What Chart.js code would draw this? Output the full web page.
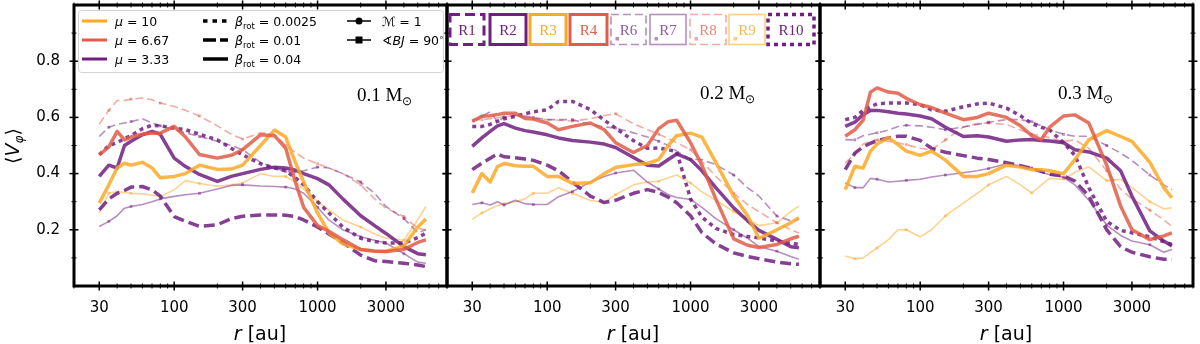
<!DOCTYPE html>
<html>
<head>
<meta charset="utf-8">
<script src="https://cdn.jsdelivr.net/npm/chart.js@4/dist/chart.umd.min.js"></script>
<style>
  body { margin: 0; background: #fff; }
  #wrap { position: relative; width: 1200px; height: 344px; overflow: hidden; }
  canvas { position: absolute; top: 0; }
  #overlay { position: absolute; left: 0; top: 0; pointer-events: none; }
</style>
</head>
<body>
<div id="wrap">
  <canvas id="c1" width="449" height="344" style="left:0px"></canvas>
  <canvas id="c2" width="385" height="344" style="left:440px"></canvas>
  <canvas id="c3" width="387" height="344" style="left:813px"></canvas>
  <svg id="overlay" width="1200" height="344" font-family="DejaVu Sans">
    <!-- axis labels -->
    <text x="260" y="340" text-anchor="middle" font-size="19"><tspan font-style="italic">r</tspan> [au]</text>
    <text x="633" y="340" text-anchor="middle" font-size="19"><tspan font-style="italic">r</tspan> [au]</text>
    <text x="1006" y="340" text-anchor="middle" font-size="19"><tspan font-style="italic">r</tspan> [au]</text>
    <text transform="translate(19,146) rotate(-90)" text-anchor="middle" font-size="19">⟨<tspan font-style="italic">V</tspan><tspan font-style="italic" font-size="12" dy="4">φ</tspan><tspan dy="-4">⟩</tspan></text>

    <!-- mass labels -->
    <g font-family="Liberation Serif" font-size="19">
      <text x="357" y="101">0.1 M<tspan font-size="12" dy="4">⊙</tspan></text>
      <text x="700" y="99">0.2 M<tspan font-size="12" dy="4">⊙</tspan></text>
      <text x="1058" y="99">0.3 M<tspan font-size="12" dy="4">⊙</tspan></text>
    </g>

    <!-- legend, panel 1 -->
    <g font-size="12.5">
      <rect x="78.5" y="10.5" width="365" height="62" rx="3" fill="#fff" fill-opacity="0.85" stroke="#d4d4d4"/>
      <line x1="82" y1="21" x2="107" y2="21" stroke="#fda826" stroke-width="3"/>
      <line x1="82" y1="40" x2="107" y2="40" stroke="#e25c46" stroke-width="3"/>
      <line x1="82" y1="59" x2="107" y2="59" stroke="#701e80" stroke-width="3"/>
      <text x="115" y="25.5"><tspan font-style="italic">μ</tspan> = 10</text>
      <text x="115" y="44.5"><tspan font-style="italic">μ</tspan> = 6.67</text>
      <text x="115" y="63.5"><tspan font-style="italic">μ</tspan> = 3.33</text>

      <line x1="203" y1="21" x2="228" y2="21" stroke="#000" stroke-width="3.5" stroke-dasharray="4.5 5"/>
      <line x1="203" y1="40" x2="228" y2="40" stroke="#000" stroke-width="3.5" stroke-dasharray="13 4"/>
      <line x1="203" y1="59" x2="228" y2="59" stroke="#000" stroke-width="3.5"/>
      <text x="235" y="25.5"><tspan font-style="italic">β</tspan><tspan font-size="8.5" dy="3">rot</tspan><tspan dy="-3"> = 0.0025</tspan></text>
      <text x="235" y="44.5"><tspan font-style="italic">β</tspan><tspan font-size="8.5" dy="3">rot</tspan><tspan dy="-3"> = 0.01</tspan></text>
      <text x="235" y="63.5"><tspan font-style="italic">β</tspan><tspan font-size="8.5" dy="3">rot</tspan><tspan dy="-3"> = 0.04</tspan></text>

      <line x1="347" y1="21" x2="371" y2="21" stroke="#000" stroke-width="1.5"/>
      <circle cx="359" cy="21" r="3.5" fill="#000"/>
      <line x1="347" y1="40" x2="371" y2="40" stroke="#000" stroke-width="1.5"/>
      <rect x="355.5" y="36.5" width="7" height="7" fill="#000"/>
      <text x="382" y="25.5">ℳ = 1</text>
      <text x="382" y="44.5">∢<tspan font-style="italic">BJ</tspan> = 90<tspan font-size="8" dy="-5">∘</tspan></text>
    </g>

    <!-- run legend, panel 2 -->
    <g font-family="Liberation Serif" font-size="15" text-anchor="middle">
      <rect x="450" y="14.5" width="34" height="30" fill="#fff" stroke="#701e80" stroke-width="3" stroke-dasharray="10 5"/>
      <text x="467" y="34.5" fill="#701e80">R1</text>
      <rect x="490" y="14.5" width="36" height="30" fill="#fff" stroke="#701e80" stroke-width="3"/>
      <text x="508" y="34.5" fill="#701e80">R2</text>
      <rect x="530" y="14.5" width="36" height="30" fill="#fff" stroke="#fda826" stroke-width="3"/>
      <text x="548" y="34.5" fill="#fda826">R3</text>
      <rect x="570" y="14.5" width="37" height="30" fill="#fff" stroke="#e25c46" stroke-width="3"/>
      <text x="588.5" y="34.5" fill="#e25c46">R4</text>

      <rect x="611" y="14.5" width="35" height="30" fill="#fff" stroke="#701e80" stroke-opacity="0.5" stroke-width="1.6" stroke-dasharray="8 4"/>
      <text x="628.5" y="34.5" fill="#701e80" fill-opacity="0.75">R6</text>
      <rect x="615.5" y="37" width="3.5" height="3.5" fill="#701e80" fill-opacity="0.5"/>
      <rect x="650" y="14.5" width="36" height="30" fill="#fff" stroke="#701e80" stroke-opacity="0.5" stroke-width="1.6"/>
      <text x="668" y="34.5" fill="#701e80" fill-opacity="0.75">R7</text>
      <rect x="654.5" y="37" width="3.5" height="3.5" fill="#701e80" fill-opacity="0.5"/>
      <rect x="690" y="14.5" width="36" height="30" fill="#fff" stroke="#e25c46" stroke-opacity="0.5" stroke-width="1.6" stroke-dasharray="8 4"/>
      <text x="708" y="34.5" fill="#e25c46" fill-opacity="0.75">R8</text>
      <rect x="694.5" y="37" width="3.5" height="3.5" fill="#e25c46" fill-opacity="0.5"/>
      <rect x="729" y="14.5" width="36" height="30" fill="#fff" stroke="#fda826" stroke-opacity="0.55" stroke-width="1.6"/>
      <text x="747" y="34.5" fill="#fda826" fill-opacity="0.8">R9</text>
      <rect x="733.5" y="37" width="3.5" height="3.5" fill="#fda826" fill-opacity="0.6"/>

      <rect x="768" y="14.5" width="46" height="30" fill="#fff" stroke="#701e80" stroke-width="3.5" stroke-dasharray="4 4"/>
      <text x="791" y="34.5" fill="#701e80">R10</text>
    </g>
  </svg>
</div>

<script>
// radius grid [au] shared by all curves
const radii = [30, 35, 40, 45, 50, 60, 70, 80, 100, 120, 150, 200, 250, 300,
  400, 500, 600, 700, 800, 1000, 1200, 1500, 2000, 2500, 3000, 4000, 5000, 5700];

const xMajor = [30, 100, 300, 1000, 3000];
const yMajor = [0.2, 0.4, 0.6, 0.8];
const yMinor = [0.1, 0.3, 0.5, 0.7, 0.9];

// <V_phi>, 0.1 Msun
const m01_R1  = [.271, .31, .33, .34, .352, .354, .342, .32, .247, .23, .212, .218, .24, .248, .253, .253, .252, .247, .235, .21, .185, .155, .11, .09, .087, .081, .075, .069];
const m01_R2  = [.39, .43, .42, .50, .515, .538, .55, .54, .455, .425, .397, .372, .39, .40, .415, .423, .42, .412, .40, .382, .36, .31, .25, .215, .187, .14, .115, .111];
const m01_R3  = [.295, .36, .42, .437, .43, .44, .42, .385, .39, .40, .43, .415, .416, .43, .50, .555, .53, .44, .37, .26, .19, .15, .13, .125, .123, .143, .21, .238];
const m01_R4  = [.467, .495, .55, .52, .53, .54, .544, .544, .568, .53, .468, .455, .465, .485, .538, .535, .49, .37, .28, .215, .195, .165, .13, .124, .123, .13, .155, .164];
const m01_R6  = [.532, .565, .575, .58, .585, .595, .58, .57, .556, .545, .532, .515, .50, .485, .44, .42, .408, .404, .41, .423, .42, .40, .37, .33, .283, .24, .19, .20];
const m01_R7  = [.212, .23, .25, .277, .283, .29, .30, .31, .319, .325, .33, .345, .358, .36, .356, .354, .352, .345, .33, .28, .235, .20, .175, .163, .153, .115, .085, .081];
const m01_R8  = [.576, .625, .66, .66, .665, .669, .663, .651, .639, .625, .605, .57, .54, .523, .545, .54, .50, .475, .455, .435, .42, .40, .36, .31, .277, .247, .205, .20];
const m01_R9  = [.259, .33, .336, .333, .33, .328, .323, .319, .342, .375, .365, .355, .36, .366, .40, .39, .39, .37, .345, .30, .27, .235, .21, .185, .17, .163, .235, .283];
const m01_R10 = [.467, .50, .51, .525, .535, .56, .572, .57, .562, .556, .54, .52, .49, .467, .435, .42, .41, .385, .36, .30, .26, .21, .17, .158, .153, .153, .172, .188];

// <V_phi>, 0.2 Msun
const m02_R1  = [.414, .437, .455, .47, .46, .456, .452, .447, .43, .41, .37, .32, .297, .305, .33, .343, .333, .316, .296, .25, .19, .15, .118, .105, .097, .085, .079, .077];
const m02_R2  = [.497, .527, .55, .57, .578, .562, .553, .548, .538, .527, .518, .512, .505, .493, .457, .43, .427, .45, .47, .45, .41, .35, .278, .232, .198, .166, .14, .136];
const m02_R3  = [.331, .40, .37, .425, .436, .428, .426, .426, .39, .39, .365, .367, .40, .422, .432, .436, .45, .50, .535, .544, .53, .44, .32, .25, .17, .20, .225, .243];
const m02_R4  = [.586, .604, .606, .61, .615, .615, .596, .594, .58, .556, .568, .58, .556, .51, .475, .50, .56, .585, .59, .51, .43, .31, .168, .145, .137, .148, .168, .177];
const m02_R6  = [.586, .604, .62, .585, .60, .608, .605, .60, .592, .592, .592, .575, .566, .562, .545, .53, .515, .50, .48, .45, .45, .432, .395, .35, .32, .249, .232, .237];
const m02_R7  = [.29, .296, .288, .30, .288, .305, .293, .29, .29, .318, .336, .37, .39, .402, .412, .37, .345, .325, .315, .308, .28, .24, .20, .17, .14, .124, .105, .095];
const m02_R8  = [.592, .592, .595, .598, .603, .606, .60, .596, .592, .59, .587, .595, .607, .613, .577, .556, .54, .525, .51, .485, .444, .39, .33, .29, .264, .225, .20, .189];
const m02_R9  = [.237, .26, .275, .286, .293, .30, .31, .33, .33, .35, .33, .304, .298, .325, .36, .37, .373, .385, .395, .367, .335, .305, .265, .235, .215, .225, .265, .284];
const m02_R10 = [.568, .568, .575, .586, .595, .604, .613, .62, .627, .657, .657, .628, .59, .562, .517, .49, .491, .485, .478, .31, .245, .205, .183, .176, .171, .16, .152, .148];

// <V_phi>, 0.3 Msun
const m03_R1  = [.414, .473, .495, .508, .517, .527, .533, .533, .518, .49, .476, .464, .455, .45, .439, .428, .418, .408, .398, .392, .373, .32, .20, .14, .12, .104, .095, .095];
const m03_R2  = [.568, .583, .61, .625, .625, .62, .615, .612, .605, .595, .565, .532, .535, .53, .515, .52, .521, .518, .516, .51, .485, .477, .455, .41, .32, .196, .16, .142];
const m03_R3  = [.343, .426, .42, .48, .505, .528, .503, .48, .465, .48, .448, .39, .39, .40, .43, .423, .414, .414, .41, .40, .45, .52, .553, .532, .515, .44, .35, .314];
const m03_R4  = [.533, .556, .59, .69, .705, .69, .686, .668, .645, .635, .615, .592, .60, .615, .60, .57, .535, .521, .565, .605, .609, .58, .43, .285, .20, .165, .178, .189];
const m03_R6  = [.521, .52, .535, .54, .545, .555, .568, .572, .57, .565, .556, .566, .575, .583, .592, .592, .585, .57, .556, .54, .533, .533, .50, .473, .447, .395, .36, .343];
const m03_R7  = [.367, .35, .35, .383, .38, .37, .373, .376, .38, .388, .395, .403, .41, .418, .435, .428, .42, .405, .396, .387, .36, .305, .217, .18, .16, .147, .12, .13];
const m03_R8  = [.438, .47, .505, .515, .52, .515, .509, .503, .49, .485, .52, .566, .578, .58, .575, .555, .54, .535, .527, .515, .52, .49, .41, .345, .31, .27, .235, .213];
const m03_R9  = [.107, .097, .10, .12, .135, .165, .20, .20, .175, .20, .25, .295, .33, .36, .39, .36, .331, .36, .383, .38, .405, .424, .375, .38, .35, .30, .275, .278];
const m03_R10 = [.592, .60, .625, .638, .648, .651, .651, .651, .645, .627, .622, .638, .648, .651, .633, .606, .578, .565, .555, .51, .465, .35, .23, .198, .189, .175, .158, .148];

const ORANGE = '253,168,38';
const RED = '226,92,70';
const PURPLE = '112,30,128';

// run -> line style (thick runs listed first so they end up on top)
const runStyle = {
  R4:  { rgb: RED,    thick: true },
  R3:  { rgb: ORANGE, thick: true },
  R2:  { rgb: PURPLE, thick: true },
  R10: { rgb: PURPLE, thick: true, dash: [4, 4] },
  R1:  { rgb: PURPLE, thick: true, dash: [11, 5] },
  R6:  { rgb: PURPLE, dash: [8, 4] },
  R7:  { rgb: PURPLE },
  R8:  { rgb: RED, dash: [8, 4] },
  R9:  { rgb: ORANGE },
};

function buildDatasets(series) {
  return Object.keys(runStyle).map(run => {
    const s = runStyle[run];
    const col = `rgba(${s.rgb},${s.thick ? 0.85 : 0.5})`;
    return {
      label: run,
      data: radii.map((r, i) => ({ x: r, y: series[run][i] })),
      borderColor: col,
      backgroundColor: col,
      borderWidth: s.thick ? 3.5 : 1.6,
      borderDash: s.dash || [],
      borderJoinStyle: 'round',
      tension: 0,
      pointStyle: 'rect',
      pointRadius: ctx => (!s.thick && ctx.dataIndex % 3 === 1) ? 2 : 0,
      pointBorderWidth: 0,
      pointBackgroundColor: col,
    };
  });
}

function minorTicks(min, max) {
  const out = [];
  for (let dec = 10; dec <= max; dec *= 10) {
    for (let k = 1; k < 10; k++) {
      const v = k * dec;
      if (v >= min && v <= max && !xMajor.includes(v)) out.push(v);
    }
  }
  return out;
}

// thick frame with in-out ticks on all four sides
const framePlugin = {
  id: 'frame',
  afterDatasetsDraw(chart) {
    const { ctx, chartArea: a, scales: { x, y } } = chart;
    ctx.save();
    ctx.strokeStyle = '#000';
    const seg = (x1, y1, x2, y2, w) => {
      ctx.lineWidth = w;
      ctx.beginPath(); ctx.moveTo(x1, y1); ctx.lineTo(x2, y2); ctx.stroke();
    };
    xMajor.forEach(v => {
      const p = x.getPixelForValue(v);
      seg(p, a.bottom - 4.5, p, a.bottom + 4.5, 1.5);
      seg(p, a.top - 4.5, p, a.top + 4.5, 1.5);
    });
    minorTicks(x.min, x.max).forEach(v => {
      const p = x.getPixelForValue(v);
      seg(p, a.bottom - 2.5, p, a.bottom + 2.5, 1);
      seg(p, a.top - 2.5, p, a.top + 2.5, 1);
    });
    yMajor.forEach(v => {
      const p = y.getPixelForValue(v);
      seg(a.left - 4.5, p, a.left + 4.5, p, 1.5);
      seg(a.right - 4.5, p, a.right + 4.5, p, 1.5);
    });
    yMinor.forEach(v => {
      const p = y.getPixelForValue(v);
      seg(a.left - 2.5, p, a.left + 2.5, p, 1);
      seg(a.right - 2.5, p, a.right + 2.5, p, 1);
    });
    ctx.lineWidth = 3;
    ctx.strokeRect(a.left, a.top, a.right - a.left, a.bottom - a.top);
    ctx.restore();
  }
};

function makePanel(id, series, showY, yWidth, rightPad) {
  return new Chart(document.getElementById(id), {
    type: 'line',
    data: { datasets: buildDatasets(series) },
    options: {
      responsive: false,
      animation: false,
      layout: { padding: { top: 5, right: rightPad, left: 0, bottom: 0 } },
      plugins: { legend: { display: false }, tooltip: { enabled: false } },
      scales: {
        x: {
          type: 'logarithmic', min: 20, max: 8000,
          grid: { display: false, drawTicks: false },
          border: { display: false },
          afterBuildTicks: s => { s.ticks = xMajor.map(v => ({ value: v })); },
          afterFit: s => { s.height = 58; s.paddingLeft = 0; s.paddingRight = 0; },
          ticks: {
            autoSkip: false, maxRotation: 0, padding: 13, color: '#000',
            font: { family: 'DejaVu Sans', size: 15 },
            callback: v => String(v)
          }
        },
        y: {
          min: 0, max: 1,
          grid: { display: false, drawTicks: false },
          border: { display: false },
          afterBuildTicks: s => { s.ticks = yMajor.map(v => ({ value: v })); },
          // keep the plot box fixed: no extra room for half-labels at the ends
          afterFit: s => { s.width = yWidth; s.paddingTop = 0; s.paddingBottom = 0; },
          ticks: {
            display: showY, padding: 14, color: '#000',
            font: { family: 'DejaVu Sans', size: 15 },
            callback: v => Number(v).toFixed(1)
          }
        }
      }
    },
    plugins: [framePlugin]
  });
}

makePanel('c1', { R1: m01_R1, R2: m01_R2, R3: m01_R3, R4: m01_R4, R6: m01_R6, R7: m01_R7, R8: m01_R8, R9: m01_R9, R10: m01_R10 }, true, 74, 2);
makePanel('c2', { R1: m02_R1, R2: m02_R2, R3: m02_R3, R4: m02_R4, R6: m02_R6, R7: m02_R7, R8: m02_R8, R9: m02_R9, R10: m02_R10 }, false, 7, 5);
makePanel('c3', { R1: m03_R1, R2: m03_R2, R3: m03_R3, R4: m03_R4, R6: m03_R6, R7: m03_R7, R8: m03_R8, R9: m03_R9, R10: m03_R10 }, false, 7, 7);
</script>
</body>
</html>
